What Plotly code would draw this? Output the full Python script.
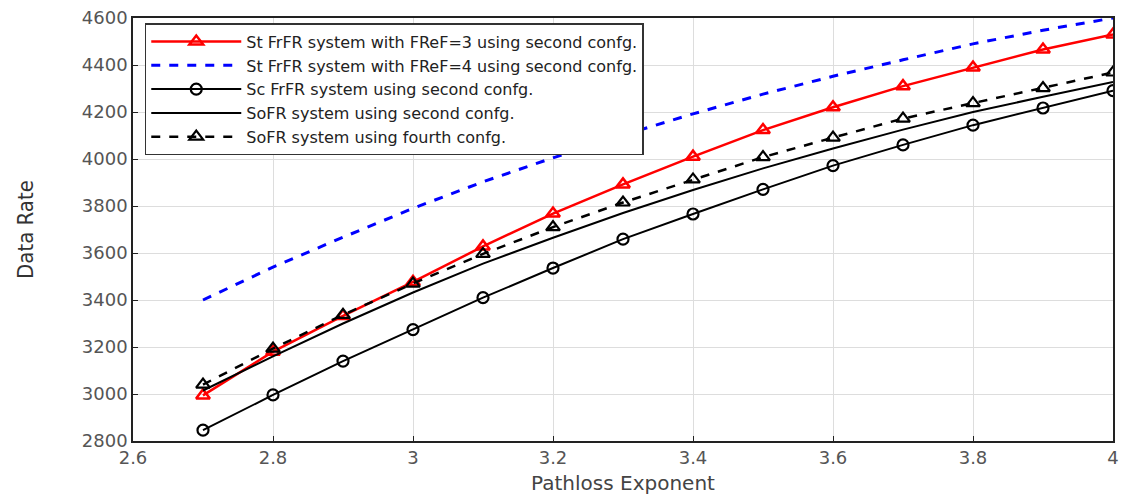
import plotly.graph_objects as go

pathloss = [2.7, 2.8, 2.9, 3.0, 3.1, 3.2, 3.3, 3.4, 3.5, 3.6, 3.7, 3.8, 3.9, 4.0]

st_frfr_fref3 = [2994, 3180, 3332, 3477, 3628, 3768, 3892, 4010, 4123, 4220, 4310, 4389, 4466, 4530]
st_frfr_fref4 = [3400, 3540, 3667, 3790, 3903, 4005, 4102, 4192, 4276, 4352, 4422, 4490, 4548, 4600]
sc_frfr_second = [2846, 2996, 3140, 3274, 3410, 3536, 3659, 3766, 3871, 3972, 4060, 4144, 4217, 4291]
sofr_second = [3015, 3160, 3300, 3432, 3555, 3665, 3770, 3868, 3960, 4045, 4125, 4200, 4265, 4328]
sofr_fourth = [3040, 3193, 3337, 3470, 3596, 3710, 3815, 3913, 4008, 4091, 4172, 4238, 4302, 4368]

x_ticks = [2.6, 2.8, 3.0, 3.2, 3.4, 3.6, 3.8, 4.0]
x_tick_labels = ["2.6", "2.8", "3", "3.2", "3.4", "3.6", "3.8", "4"]

names = [
    "St FrFR system with FReF=3 using second confg.",
    "St FrFR system with FReF=4 using second confg.",
    "Sc FrFR system using second confg.",
    "SoFR system using second confg.",
    "SoFR system using fourth confg.",
]

WIDE = "DejaVu Sans, Verdana, Arial"

fig = go.Figure()
fig.add_trace(go.Scatter(
    x=pathloss, y=st_frfr_fref3, name=names[0], mode="lines+markers",
    line=dict(color="#ff0000", width=2.5),
    marker=dict(symbol="triangle-up-open", size=12, color="#ff0000", line=dict(width=2.5, color="#ff0000")),
))
fig.add_trace(go.Scatter(
    x=pathloss, y=st_frfr_fref4, name=names[1], mode="lines",
    line=dict(color="#0000ff", width=3, dash="dash"),
))
fig.add_trace(go.Scatter(
    x=pathloss, y=sc_frfr_second, name=names[2], mode="lines+markers",
    line=dict(color="black", width=2),
    marker=dict(symbol="circle-open", size=11, color="black", line=dict(width=2.2, color="black")),
))
fig.add_trace(go.Scatter(
    x=pathloss, y=sofr_second, name=names[3], mode="lines",
    line=dict(color="black", width=2),
))
fig.add_trace(go.Scatter(
    x=pathloss, y=sofr_fourth, name=names[4], mode="lines+markers",
    line=dict(color="black", width=2.5, dash="dash"),
    marker=dict(symbol="triangle-up-open", size=12, color="black", line=dict(width=2.2, color="black")),
))

axis_common = dict(
    showline=True, linecolor="#222222", linewidth=1.5, mirror=True,
    ticks="inside", ticklen=5, tickcolor="#222222",
    showgrid=True, gridcolor="#dddddd", gridwidth=1, zeroline=False,
    tickfont=dict(family=WIDE, size=18, color="#555555"),
)

fig.update_xaxes(
    range=[2.6, 4.0], tickmode="array", tickvals=x_ticks, ticktext=x_tick_labels,
    title=dict(text="Pathloss Exponent", font=dict(family=WIDE, size=20, color="#444444"), standoff=9),
    **axis_common,
)
fig.update_yaxes(
    range=[2800, 4600], dtick=200,
    title=dict(text="Data Rate", font=dict(family="Liberation Sans Narrow, DejaVu Sans Condensed, Arial", size=22, color="#333333"), standoff=42),
    **axis_common,
)

fig.update_layout(
    width=1126, height=498,
    margin=dict(l=133, r=7, t=17, b=55),
    plot_bgcolor="white", paper_bgcolor="white",
    legend=dict(
        x=0.012, y=0.988, xanchor="left", yanchor="top",
        bgcolor="white", bordercolor="#333333", borderwidth=1.5,
        font=dict(family=WIDE, size=16, color="#222222"),
        tracegroupgap=0, itemwidth=90,
    ),
    showlegend=True,
)

fig.write_html("out.html")
